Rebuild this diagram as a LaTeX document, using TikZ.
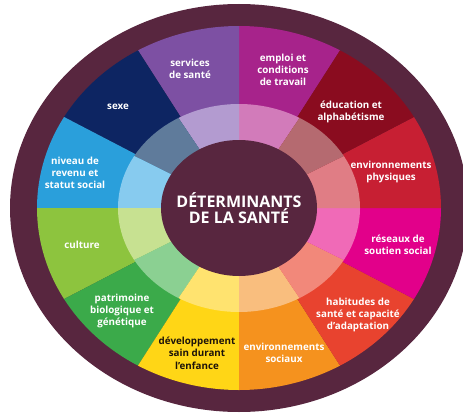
\documentclass[tikz,border=0pt]{standalone}
\usepackage{fontspec}
\setmainfont{Open Sans}
\usetikzlibrary{calc}

\definecolor{plum}{HTML}{58263F}
\definecolor{servcol}{HTML}{7D50A3}   \definecolor{servlt}{HTML}{B39BD0}
\definecolor{emplcol}{HTML}{A7238B}   \definecolor{empllt}{HTML}{D27BBA}
\definecolor{educcol}{HTML}{8A0C1F}   \definecolor{educlt}{HTML}{B56A70}
\definecolor{physcol}{HTML}{C71F33}   \definecolor{physlt}{HTML}{E07D85}
\definecolor{reseaucol}{HTML}{E2008A} \definecolor{reseault}{HTML}{F06AB7}
\definecolor{habcol}{HTML}{E8432F}    \definecolor{hablt}{HTML}{F2887A}
\definecolor{soccol}{HTML}{F5921E}    \definecolor{soclt}{HTML}{F9BE7E}
\definecolor{devcol}{HTML}{FFD616}    \definecolor{devlt}{HTML}{FFE36F}
\definecolor{patcol}{HTML}{3BAA4A}    \definecolor{patlt}{HTML}{8BD092}
\definecolor{cultcol}{HTML}{8DC43E}   \definecolor{cultlt}{HTML}{C7E191}
\definecolor{revcol}{HTML}{2A9FDB}    \definecolor{revlt}{HTML}{87CBEF}
\definecolor{sexecol}{HTML}{0D2562}   \definecolor{sexelt}{HTML}{5F7B9B}

\begin{document}
\begin{tikzpicture}[x=1pt,y=1pt,
  lbl/.style={text=white,align=center,font=\bfseries\fontsize{9.8}{12.3}\selectfont},
  outer/.style={x radius=202pt,y radius=182pt},
  inner/.style={x radius=121pt,y radius=104pt}]

\useasboundingbox (0,0) rectangle (463,416);
\coordinate (c) at (239,208);

%%%%%%%%%%%%%%%%%%%%%% RINGS

\fill[plum] (c) ellipse [x radius=229pt,y radius=204pt];

\fill[emplcol]   (c) -- ++(60:202pt and 182pt)   arc[start angle=60,end angle=90,outer] -- cycle;
\fill[servcol]   (c) -- ++(90:202pt and 182pt)   arc[start angle=90,end angle=120,outer] -- cycle;
\fill[sexecol]   (c) -- ++(120:202pt and 182pt)  arc[start angle=120,end angle=150,outer] -- cycle;
\fill[revcol]    (c) -- ++(150:202pt and 182pt)  arc[start angle=150,end angle=180,outer] -- cycle;
\fill[cultcol]   (c) -- ++(180:202pt and 182pt)  arc[start angle=180,end angle=210,outer] -- cycle;
\fill[patcol]    (c) -- ++(210:202pt and 182pt)  arc[start angle=210,end angle=240,outer] -- cycle;
\fill[devcol]    (c) -- ++(240:202pt and 182pt)  arc[start angle=240,end angle=270,outer] -- cycle;
\fill[soccol]    (c) -- ++(270:202pt and 182pt)  arc[start angle=270,end angle=300,outer] -- cycle;
\fill[habcol]    (c) -- ++(300:202pt and 182pt)  arc[start angle=300,end angle=330,outer] -- cycle;
\fill[reseaucol] (c) -- ++(330:202pt and 182pt)  arc[start angle=330,end angle=360,outer] -- cycle;
\fill[physcol]   (c) -- ++(0:202pt and 182pt)    arc[start angle=0,end angle=30,outer] -- cycle;
\fill[educcol]   (c) -- ++(30:202pt and 182pt)   arc[start angle=30,end angle=60,outer] -- cycle;

\fill[empllt]   (c) -- ++(60:121pt and 104pt)   arc[start angle=60,end angle=90,inner] -- cycle;
\fill[servlt]   (c) -- ++(90:121pt and 104pt)   arc[start angle=90,end angle=120,inner] -- cycle;
\fill[sexelt]   (c) -- ++(120:121pt and 104pt)  arc[start angle=120,end angle=150,inner] -- cycle;
\fill[revlt]    (c) -- ++(150:121pt and 104pt)  arc[start angle=150,end angle=180,inner] -- cycle;
\fill[cultlt]   (c) -- ++(180:121pt and 104pt)  arc[start angle=180,end angle=210,inner] -- cycle;
\fill[patlt]    (c) -- ++(210:121pt and 104pt)  arc[start angle=210,end angle=240,inner] -- cycle;
\fill[devlt]    (c) -- ++(240:121pt and 104pt)  arc[start angle=240,end angle=270,inner] -- cycle;
\fill[soclt]    (c) -- ++(270:121pt and 104pt)  arc[start angle=270,end angle=300,inner] -- cycle;
\fill[hablt]    (c) -- ++(300:121pt and 104pt)  arc[start angle=300,end angle=330,inner] -- cycle;
\fill[reseault] (c) -- ++(330:121pt and 104pt)  arc[start angle=330,end angle=360,inner] -- cycle;
\fill[physlt]   (c) -- ++(0:121pt and 104pt)    arc[start angle=0,end angle=30,inner] -- cycle;
\fill[educlt]   (c) -- ++(30:121pt and 104pt)   arc[start angle=30,end angle=60,inner] -- cycle;

\fill[plum] (c) ellipse [x radius=78pt,y radius=68pt];

%%%%%%%%%%%%%%%%%%%%%% LABELS

\node[text=white,align=center,font=\bfseries\fontsize{16}{15.5}\selectfont] (titre) at (c) {DÉTERMINANTS\\DE LA SANTÉ};

\node[lbl] (serv)   at (190,347) {services\\de santé};
\node[lbl] (empl)   at (283,346) {emploi et\\conditions\\de travail};
\node[lbl] (educ)   at (351,304) {éducation et\\alphabétisme};
\node[lbl] (phys)   at (391,244) {environnements\\physiques};
\node[lbl] (reseau) at (398,171) {réseaux de\\soutien social};
\node[lbl] (hab)    at (358,101) {habitudes de\\santé et capacité\\d’adaptation};
\node[lbl] (soc)    at (284,63)  {environnements\\sociaux};
\node[lbl,text=black!85!brown] (dev) at (197,63) {développement\\sain durant\\l’enfance};
\node[lbl] (pat)    at (122,105) {patrimoine\\biologique et\\génétique};
\node[lbl] (cult)   at (82,171)  {culture};
\node[lbl] (rev)    at (75,243)  {niveau de\\revenu et\\statut social};
\node[lbl] (sexe)   at (118,309) {sexe};

\end{tikzpicture}
\end{document}
